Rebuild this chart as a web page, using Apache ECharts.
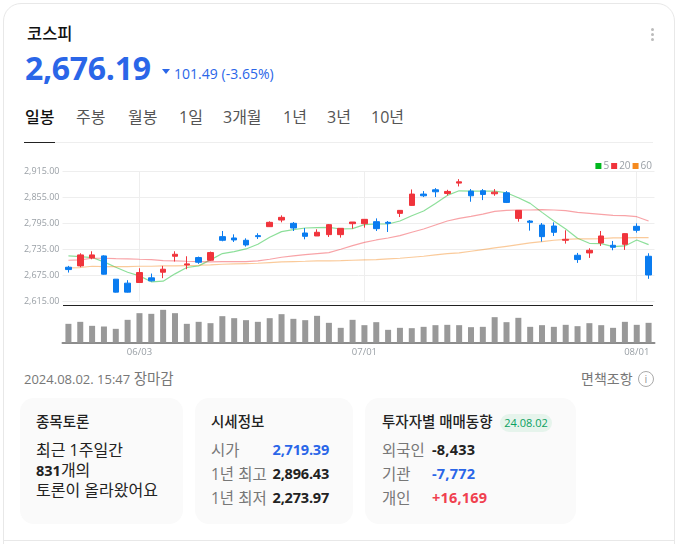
<!DOCTYPE html>
<html lang="ko">
<head>
<meta charset="UTF-8">
<title>코스피</title>
<script src="https://cdn.jsdelivr.net/npm/echarts@6/dist/echarts.min.js"></script>
<style>
  html, body { margin: 0; padding: 0; width: 677px; height: 544px; overflow: hidden; background: #fff; }
  body { font-family: "Open Sans", "Noto Sans CJK KR", sans-serif; color: #222; position: relative; }
  .abs { position: absolute; white-space: nowrap; line-height: 20px; }
  #frame { position: absolute; left: 3px; top: 3px; width: 670px; height: 600px; border: 1px solid #e8e8e8; border-radius: 18px; }
  #divider { position: absolute; left: 3px; top: 540px; width: 671px; height: 1px; background: #e8e8e8; }
  #main { position: absolute; left: 0; top: 150px; width: 677px; height: 210px; }
  .tab { top: 107px; font-size: 16px; color: #555; }
  .box { position: absolute; top: 398px; height: 126px; background: #fafafa; border-radius: 14px; }
  .title { font-size: 14.5px; font-weight: 500; color: #222; top: 412px; }
  .label { font-size: 15.5px; color: #777; }
  .val { font-size: 14.5px; font-weight: 700; color: #222; letter-spacing: -0.2px; }
  .dot { position: absolute; left: 651px; width: 3px; height: 3px; border-radius: 50%; background: #bbb; }
</style>
</head>
<body>
<div id="frame"></div>
<div id="divider"></div>

<div class="abs" style="left:27px;top:24px;font-size:16.5px;font-weight:500;color:#111">코스피</div>
<div class="abs" style="left:25px;top:48px;font-size:32px;font-weight:700;line-height:40px;letter-spacing:-0.3px;color:#2a66e8">2,676.19</div>
<div style="position:absolute;left:162px;top:69px;width:0;height:0;border-left:4px solid transparent;border-right:4px solid transparent;border-top:5px solid #2a66e8"></div>
<div class="abs" style="left:174px;top:64px;font-size:14px;color:#2a66e8;letter-spacing:0.02px">101.49 (-3.65%)</div>
<div class="dot" style="top:28px"></div>
<div class="dot" style="top:33px"></div>
<div class="dot" style="top:38px"></div>

<div class="abs tab" style="left:25px;color:#111;font-weight:500">일봉</div>
<div class="abs tab" style="left:76px">주봉</div>
<div class="abs tab" style="left:128px">월봉</div>
<div class="abs tab" style="left:179px">1일</div>
<div class="abs tab" style="left:223px">3개월</div>
<div class="abs tab" style="left:283px">1년</div>
<div class="abs tab" style="left:327px">3년</div>
<div class="abs tab" style="left:371px">10년</div>
<div style="position:absolute;left:24px;top:142px;width:629px;height:1px;background:#eee"></div>
<div style="position:absolute;left:24px;top:142px;width:31px;height:1px;background:#222"></div>

<div id="main"></div>

<div class="abs" style="left:24px;top:369px;font-size:13px;color:#777">2024.08.02. 15:47 <span style="font-size:14.5px">장마감</span></div>
<div class="abs" style="left:581px;top:369px;font-size:14px;color:#777">면책조항</div>
<div class="abs" style="left:638px;top:371px;width:14px;height:14px;border:1px solid #aaa;border-radius:50%;font-size:11px;line-height:14px;text-align:center;color:#999">i</div>

<div class="box" style="left:20px;width:163px"></div>
<div class="box" style="left:195px;width:158px"></div>
<div class="box" style="left:365px;width:211px"></div>

<div class="abs title" style="left:36px">종목토론</div>
<div class="abs" style="left:36px;top:440px;font-size:16px">최근 1주일간</div>
<div class="abs" style="left:36px;top:460px;font-size:16px"><b style="font-weight:700;font-size:14.5px">831</b>개의</div>
<div class="abs" style="left:36px;top:480px;font-size:16px">토론이 올라왔어요</div>

<div class="abs title" style="left:211px">시세정보</div>
<div class="abs label" style="left:211px;top:440px">시가</div>
<div class="abs label" style="left:211px;top:464px">1년 최고</div>
<div class="abs label" style="left:211px;top:488px">1년 최저</div>
<div class="abs val" style="right:348px;top:440px;color:#2a66e8">2,719.39</div>
<div class="abs val" style="right:348px;top:464px">2,896.43</div>
<div class="abs val" style="right:348px;top:488px">2,273.97</div>

<div class="abs title" style="left:382px">투자자별 매매동향</div>
<div class="abs" style="left:500px;top:414px;width:52px;height:18px;line-height:18px;border-radius:9px;background:#e6f4ec;color:#0aa060;font-size:11px;text-align:center">24.08.02</div>
<div class="abs label" style="left:382px;top:440px">외국인</div>
<div class="abs label" style="left:382px;top:464px">기관</div>
<div class="abs label" style="left:382px;top:488px">개인</div>
<div class="abs val" style="left:432px;top:440px;letter-spacing:0.2px">-8,433</div>
<div class="abs val" style="left:432px;top:464px;letter-spacing:0.2px;color:#2a66e8">-7,772</div>
<div class="abs val" style="left:432px;top:488px;letter-spacing:0.2px;color:#f0404f">+16,169</div>

<script>
const dates = ['05/24','05/27','05/28','05/29','05/30','05/31','06/03','06/04','06/05','06/07',
  '06/10','06/11','06/12','06/13','06/14','06/17','06/18','06/19','06/20','06/21',
  '06/24','06/25','06/26','06/27','06/28','07/01','07/02','07/03','07/04','07/05',
  '07/08','07/09','07/10','07/11','07/12','07/15','07/16','07/17','07/18','07/19',
  '07/22','07/23','07/24','07/25','07/26','07/29','07/30','07/31','08/01','08/02'];
const labelDates = ['06/03', '07/01', '08/01'];
const priceTicks = [2615, 2675, 2735, 2795, 2855, 2915];

const open = [2694.1,2697.2,2715.6,2720.2,2666.5,2657.3,2658.8,2669.6,2682.6,2719.4,
  2699.5,2716.4,2710.2,2764.7,2761.6,2756.3,2767.0,2787.7,2803.0,2795.4,
  2773.1,2766.2,2769.3,2769.3,2794.6,2794.6,2799.2,2797.7,2818.4,2836.8,
  2862.9,2872.8,2864.4,2888.2,2869.8,2870.5,2863.6,2865.9,2806.8,2800.7,
  2791.5,2789.2,2756.3,2721.7,2727.1,2750.1,2744.7,2747.0,2788.5,2719.39];
const close = [2688.7,2722.5,2722.5,2678.0,2636.6,2636.6,2681.8,2662.7,2689.5,2724.0,
  2701.8,2705.6,2727.9,2756.3,2757.0,2745.5,2764.7,2797.7,2809.2,2784.6,
  2765.4,2774.7,2792.3,2783.9,2798.4,2804.6,2783.1,2795.4,2825.3,2862.9,
  2859.0,2868.2,2869.0,2891.2,2859.0,2862.1,2867.4,2843.7,2825.3,2797.7,
  2764.7,2774.7,2758.5,2711.8,2733.2,2766.2,2740.1,2771.6,2779.3,2676.19];
const low = [2681.8,2694.1,2712.5,2677.2,2635.8,2635.8,2658.8,2661.1,2668.8,2707.2,
  2689.5,2701.8,2708.7,2753.9,2752.4,2741.7,2759.3,2786.9,2797.7,2777.7,
  2758.5,2766.2,2763.9,2762.4,2783.1,2785.4,2777.7,2775.4,2809.9,2836.0,
  2856.0,2856.0,2859.8,2880.5,2845.2,2849.0,2859.0,2842.2,2799.2,2778.5,
  2753.2,2766.2,2748.6,2704.1,2715.6,2743.2,2733.2,2734.0,2773.9,2667.3];
const high = [2697.2,2726.3,2730.9,2721.7,2666.5,2664.2,2691.8,2679.5,2697.2,2730.9,
  2719.4,2718.7,2730.2,2777.7,2770.0,2760.8,2772.4,2800.0,2813.8,2798.4,
  2784.6,2781.6,2793.8,2784.6,2798.4,2805.3,2806.8,2800.7,2826.1,2873.6,
  2869.8,2876.7,2872.8,2897.4,2874.4,2874.4,2874.4,2869.8,2825.3,2803.0,
  2796.1,2797.7,2779.3,2727.1,2737.8,2777.7,2754.7,2772.4,2795.4,2726.3];

const ma5 = [2720.2,2718.7,2716.4,2706.4,2694.1,2682.6,2674.2,2660.4,2661.9,2678.8,
  2693.4,2697.2,2711.0,2725.6,2730.2,2736.3,2747.0,2763.1,2776.2,2780.8,
  2784.6,2785.4,2786.2,2782.3,2783.1,2792.3,2793.8,2793.8,2800.7,2813.0,
  2823.7,2841.4,2859.8,2870.5,2869.8,2869.8,2869.8,2865.9,2854.4,2841.4,
  2820.7,2800.7,2782.3,2760.8,2749.3,2748.6,2741.7,2743.2,2757.0,2746.3];
const ma20 = [2710.2,2711.0,2714.8,2714.8,2714.0,2713.3,2712.5,2711.8,2709.5,2708.7,
  2707.9,2707.2,2706.4,2707.2,2707.2,2707.2,2708.7,2712.5,2717.1,2720.2,
  2723.3,2725.6,2727.9,2735.5,2744.0,2751.6,2757.0,2761.6,2767.0,2774.7,
  2782.3,2791.5,2800.7,2806.8,2811.5,2816.8,2823.0,2825.3,2826.1,2826.1,
  2826.8,2826.1,2824.5,2820.7,2818.4,2816.1,2813.8,2813.0,2810.7,2800.7];
const ma60 = [2692.6,2693.4,2696.4,2695.6,2695.6,2695.6,2696.4,2696.4,2697.2,2697.2,
  2698.0,2698.7,2699.5,2701.0,2701.8,2702.6,2703.3,2704.8,2706.4,2707.2,
  2707.9,2708.7,2708.7,2709.4,2710.2,2711.0,2711.8,2713.3,2714.8,2717.1,
  2719.4,2722.5,2725.6,2727.1,2730.9,2734.8,2738.6,2742.4,2746.3,2750.1,
  2753.2,2756.3,2758.5,2759.3,2759.3,2760.1,2761.6,2761.6,2762.4,2762.4];
const volume = [56,62,50,48,41,68,88,86,98,88,
  56,62,58,79,73,67,62,73,85,71,
  67,80,59,44,68,52,61,38,44,43,
  47,52,53,52,46,47,76,61,74,47,
  52,47,53,49,58,52,44,62,53,59];

const UP = '#f0343c';
const DOWN = '#0a7cf0';
const isLabelDate = (i, name) => labelDates.includes(name);

const maSeries = (name, data, color) => ({
  name,
  type: 'line',
  data,
  xAxisIndex: 0,
  yAxisIndex: 0,
  showSymbol: false,
  smooth: false,
  itemStyle: { color },
  lineStyle: { color, width: 1.2, opacity: 0.45 },
  z: 3
});

const chart = echarts.init(document.getElementById('main'), null, { renderer: 'canvas' });
chart.setOption({
  animation: false,
  textStyle: { fontFamily: '"Open Sans", sans-serif' },
  legend: {
    top: 6,
    right: 20,
    itemWidth: 6,
    itemHeight: 6,
    itemGap: 2,
    icon: 'rect',
    textStyle: { color: '#9aa0a6', fontSize: 10, padding: [0, 0, 0, -3] },
    data: ['5', '20', '60']
  },
  grid: [
    { left: 62.5, width: 592, top: 21.5, height: 130 },
    { left: 62.5, width: 592, top: 155.5, height: 37 }
  ],
  xAxis: [
    {
      type: 'category',
      gridIndex: 0,
      data: dates,
      axisLine: { show: false },
      axisTick: { show: false },
      axisLabel: { show: false },
      splitLine: {
        show: true,
        interval: isLabelDate,
        alignWithLabel: true,
        lineStyle: { color: '#eeeeee', width: 1 }
      }
    },
    {
      type: 'category',
      gridIndex: 1,
      data: dates,
      axisLine: { lineStyle: { color: '#8c8c8c', width: 2 } },
      axisTick: {
        alignWithLabel: true,
        interval: isLabelDate,
        length: 3,
        lineStyle: { color: '#444' }
      },
      axisLabel: { interval: isLabelDate, color: '#9aa0a6', fontSize: 9.5, margin: 5 },
      splitLine: { show: false }
    }
  ],
  yAxis: [
    {
      type: 'value',
      gridIndex: 0,
      min: 2615,
      max: 2915,
      axisLine: { show: false },
      axisTick: { show: false },
      axisLabel: {
        customValues: priceTicks,
        color: '#9aa0a6',
        fontSize: 9,
        margin: 3,
        formatter: v => v.toLocaleString('en-US', { minimumFractionDigits: 2 })
      },
      splitLine: { show: true, lineStyle: { color: '#eeeeee', width: 1 } },
      interval: 60
    },
    {
      type: 'value',
      gridIndex: 1,
      min: 0,
      max: 111,
      show: false
    }
  ],
  series: [
    {
      type: 'candlestick',
      xAxisIndex: 0,
      yAxisIndex: 0,
      barWidth: 6,
      data: dates.map((d, i) => [open[i], close[i], low[i], high[i]]),
      itemStyle: { color: UP, color0: DOWN, borderColor: UP, borderColor0: DOWN, borderWidth: 1 },
      z: 4
    },
    maSeries('5', ma5, '#00b81e'),
    maSeries('20', ma20, '#f0343c'),
    maSeries('60', ma60, '#f58a1f'),
    {
      name: 'volume',
      type: 'bar',
      xAxisIndex: 1,
      yAxisIndex: 1,
      barWidth: 6,
      data: volume,
      itemStyle: { color: '#999999' }
    }
  ],
  graphic: [
    { type: 'rect', shape: { x: 63, y: 155, width: 590, height: 1 }, style: { fill: '#222' }, silent: true }
  ]
});
</script>
</body>
</html>
